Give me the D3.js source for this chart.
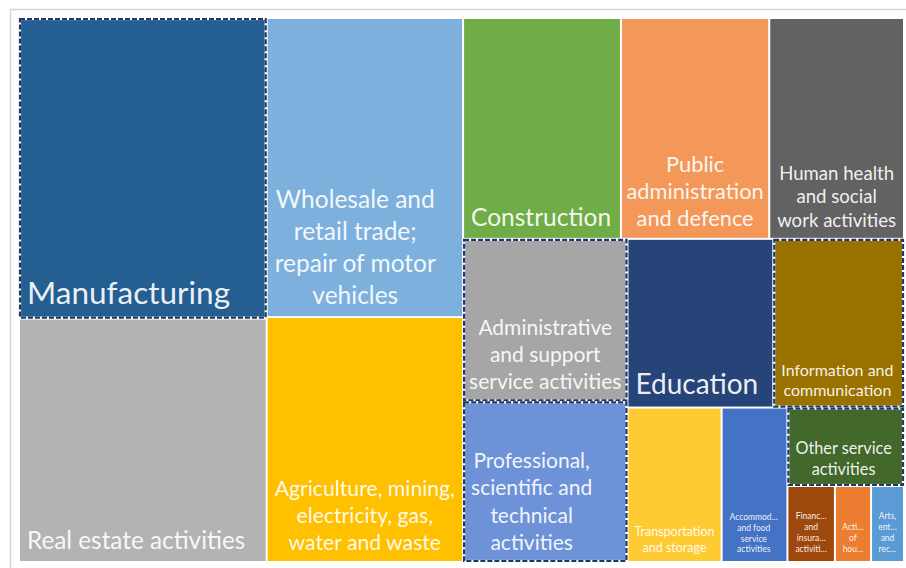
<!DOCTYPE html>
<html>
<head>
<meta charset="utf-8">
<script src="https://cdn.jsdelivr.net/npm/d3@7"></script>
<style>
  body { margin: 0; background: #fff; }
  svg { display: block; }
  text { font-family: Lato, "Open Sans", sans-serif; }
</style>
</head>
<body>
<div id="chart"></div>
<script>
// sector shares (%)
const categories = [
  "Manufacturing", "Real estate activities",
  "Wholesale and retail trade; repair of motor vehicles", "Agriculture, mining, electricity, gas, water and waste",
  "Construction", "Public administration and defence", "Human health and social work activities",
  "Administrative and support service activities", "Professional, scientific and technical activities",
  "Education", "Information and communication",
  "Transportation and storage", "Accommodation and food service activities",
  "Other service activities", "Financial and insurance activities",
  "Activities of households", "Arts, entertainment and recreation"
];
const values = [15.46, 12.52, 12.20, 9.99, 7.24, 6.80, 6.18, 5.55, 5.48, 5.11, 4.58, 3.02, 2.11, 1.90, 0.75, 0.57, 0.52];

// wrapped label text as shown in the tiles
const labelLines = [
  ["Manufacturing"], ["Real estate activities"],
  ["Wholesale and", "retail trade;", "repair of motor", "vehicles"],
  ["Agriculture, mining,", "electricity, gas,", "water and waste"],
  ["Construction"], ["Public", "administration", "and defence"],
  ["Human health", "and social", "work activities"],
  ["Administrative", "and support", "service activities"],
  ["Professional,", "scientific and", "technical", "activities"],
  ["Education"], ["Information and", "communication"],
  ["Transportation", "and storage"], ["Accommod\u2026", "and food", "service", "activities"],
  ["Other service", "activities"], ["Financ\u2026", "and", "insura\u2026", "activiti\u2026"],
  ["Acti\u2026", "of", "hou\u2026"], ["Arts,", "ent\u2026", "and", "rec\u2026"]
];

// how the tiles are nested (indices into categories)
const tiling = ["row",
  ["col", 0, 1],
  ["col", 2, 3],
  ["col",
    ["row", 4, 5, 6],
    ["row",
      ["col", 7, 8],
      ["col",
        ["row", 9, 10],
        ["row", 11, 12, ["col", 13, ["row", 14, 15, 16]]]]]]];

const colors = ["#255e91", "#b3b3b3", "#7eb0de", "#ffc000", "#70ad47", "#f4985a", "#626262",
  "#a6a6a6", "#6d92d8", "#264478", "#9a7200", "#ffcb33", "#4472c4", "#43682b",
  "#9e480e", "#ed7d31", "#5b9bd5"];
const fontSizes = [31.5, 24.3, 24.5, 21.2, 24.5, 21.8, 18.6, 21, 21, 28, 16, 12.5, 8.5, 16.3, 8.5, 8.5, 8.5];
const lineHeights = [1.27, 1.27, 1.31, 1.27, 1.27, 1.25, 1.27, 1.3, 1.3, 1.27, 1.3, 1.28, 1.27, 1.25, 1.3, 1.3, 1.3];
const selected = [0, 7, 8, 10, 13];

const width = 906, height = 568;

function build(spec) {
  if (typeof spec === "number") return { idx: spec, name: categories[spec], value: values[spec] };
  return { dir: spec[0], children: spec.slice(1).map(build) };
}

const root = d3.hierarchy(build(tiling)).sum(d => d.value || 0);

const tile = (node, x0, y0, x1, y1) =>
  (node.data.dir === "row" ? d3.treemapDice : d3.treemapSlice)(node, x0, y0, x1, y1);

d3.treemap().tile(tile).size([885, 544])(root);

const svg = d3.select("#chart").append("svg")
  .attr("width", width)
  .attr("height", height);

// light frame
svg.append("line").attr("x1", 10).attr("x2", width).attr("y1", 9.5).attr("y2", 9.5)
  .attr("stroke", "#d6d6d6").attr("stroke-width", 1.5);
svg.append("line").attr("x1", 10.5).attr("x2", 10.5).attr("y1", 9).attr("y2", height)
  .attr("stroke", "#d6d6d6").attr("stroke-width", 1.5);

const g = svg.append("g").attr("transform", "translate(19,18)");

const leaves = root.leaves();

const cell = g.selectAll("g.cell")
  .data(leaves)
  .enter()
  .append("g")
  .attr("class", "cell");

cell.append("rect")
  .attr("x", d => d.x0 + 1)
  .attr("y", d => d.y0 + 1)
  .attr("width", d => d.x1 - d.x0 - 2)
  .attr("height", d => d.y1 - d.y0 - 2)
  .attr("fill", d => colors[d.data.idx]);

// dashed outline on the highlighted tiles
const sel = cell.filter(d => selected.includes(d.data.idx));
sel.append("rect")
  .attr("x", d => d.x0 + 1)
  .attr("y", d => d.y0 + 1)
  .attr("width", d => d.x1 - d.x0 - 2)
  .attr("height", d => d.y1 - d.y0 - 2)
  .attr("fill", "none")
  .attr("stroke", "#fff")
  .attr("stroke-width", 2.2);
sel.append("rect")
  .attr("x", d => d.x0 + 1)
  .attr("y", d => d.y0 + 1)
  .attr("width", d => d.x1 - d.x0 - 2)
  .attr("height", d => d.y1 - d.y0 - 2)
  .attr("fill", "none")
  .attr("stroke", "#1f3864")
  .attr("stroke-width", 2.2)
  .attr("stroke-dasharray", "5 2");

// labels: block at the bottom-left, lines centred inside the block
cell.each(function(d) {
  const i = d.data.idx;
  const size = fontSizes[i];
  const lines = labelLines[i];
  const lh = size * lineHeights[i];
  const t = d3.select(this).append("g");
  const texts = lines.map((s, k) => t.append("text")
    .attr("font-size", size)
    .attr("text-anchor", "middle")
    .attr("fill", "#fff")
    .attr("fill-opacity", 0.93)
    .attr("y", d.y1 - 8 - size * 0.2 - (lines.length - 1 - k) * lh)
    .text(s));
  const maxW = d3.max(texts, el => el.node().getComputedTextLength());
  const w = d.x1 - d.x0;
  const left = d.x0 + Math.min(8, (w - maxW) / 2);
  texts.forEach(el => el.attr("x", left + maxW / 2));
});
</script>
</body>
</html>
